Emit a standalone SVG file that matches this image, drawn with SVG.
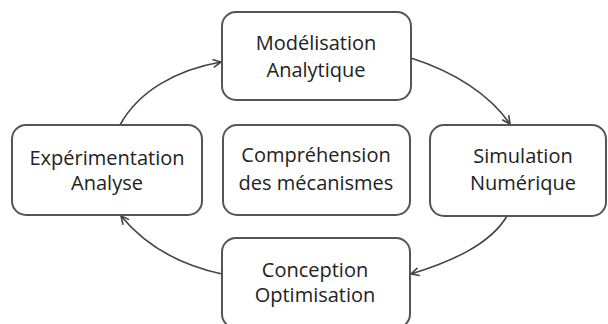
<svg xmlns="http://www.w3.org/2000/svg" width="608" height="324" viewBox="0 0 608 324">
<defs>
<style>
.box{fill:#fff;stroke:#555;stroke-width:2}
.lbl{font-family:"Open Sans","Liberation Sans",sans-serif;font-size:20px;fill:#222;text-anchor:middle}
.conn{fill:none;stroke:#444;stroke-width:1.6}
</style>
<marker id="arr" viewBox="0 0 10 10" refX="9" refY="5" markerWidth="10" markerHeight="10" markerUnits="userSpaceOnUse" orient="auto">
<path d="M1,1 L9,5 L1,9" fill="none" stroke="#444" stroke-width="1.6"/>
</marker>
</defs>
<rect width="608" height="324" fill="#fff"/>
<g id="connectors">
<path class="conn" d="M120,125 C138,92 175,70 221,62" marker-end="url(#arr)"/>
<path class="conn" d="M411,58 C455,72 490,95 510,124" marker-end="url(#arr)"/>
<path class="conn" d="M507,216 C490,245 450,262 411,274" marker-end="url(#arr)"/>
<path class="conn" d="M222,274 C180,265 145,245 121,216" marker-end="url(#arr)"/>
</g>
<g id="modelisation">
<rect class="box" x="222" y="12" width="189" height="88" rx="14"/>
<text class="lbl" x="316" y="50">Modélisation</text>
<text class="lbl" x="316" y="77">Analytique</text>
</g>
<g id="experimentation">
<rect class="box" x="12" y="125" width="190" height="90" rx="14"/>
<text class="lbl" x="107" y="165">Expérimentation</text>
<text class="lbl" x="107" y="190">Analyse</text>
</g>
<g id="comprehension">
<rect class="box" x="223" y="125" width="187" height="90" rx="14"/>
<text class="lbl" x="316" y="162">Compréhension</text>
<text class="lbl" x="316" y="190">des mécanismes</text>
</g>
<g id="simulation">
<rect class="box" x="430" y="125" width="176" height="91" rx="14"/>
<text class="lbl" x="523" y="163">Simulation</text>
<text class="lbl" x="523" y="190">Numérique</text>
</g>
<g id="conception">
<rect class="box" x="222" y="238" width="188" height="90" rx="14"/>
<text class="lbl" x="315" y="277">Conception</text>
<text class="lbl" x="315" y="302">Optimisation</text>
</g>
</svg>
